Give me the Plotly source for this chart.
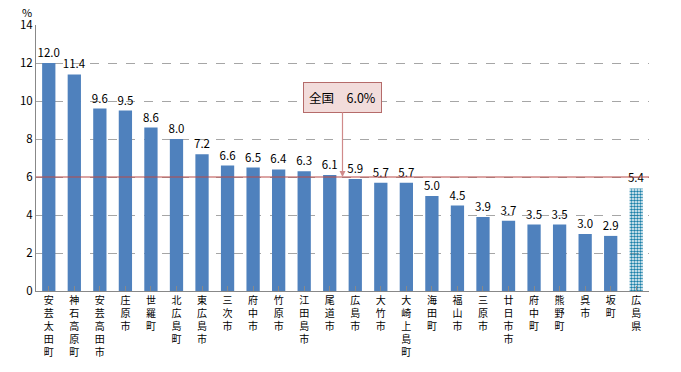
import plotly.graph_objects as go

categories = ["安芸太田町", "神石高原町", "安芸高田市", "庄原市", "世羅町", "北広島町", "東広島市",
              "三次市", "府中市", "竹原市", "江田島市", "尾道市", "広島市", "大竹市", "大崎上島町",
              "海田町", "福山市", "三原市", "廿日市市", "府中町", "熊野町", "呉市", "坂町", "広島県"]
values = [12.0, 11.4, 9.6, 9.5, 8.6, 8.0, 7.2, 6.6, 6.5, 6.4, 6.3, 6.1, 5.9, 5.7, 5.7,
          5.0, 4.5, 3.9, 3.7, 3.5, 3.5, 3.0, 2.9, 5.4]
national_avg = 6.0
y_ticks = [0, 2, 4, 6, 8, 10, 12, 14]

tick_text = ["<br>".join(list(c)) for c in categories]
n = len(categories)

shapes = [""] * (n - 1) + ["."]
fg = ["#4F81BD"] * (n - 1) + ["#1A7FA8"]
bg = ["#4F81BD"] * (n - 1) + ["white"]

fig = go.Figure()
fig.add_trace(go.Bar(
    x=list(range(n)), y=values,
    width=0.52,
    marker=dict(
        color=["#4F81BD"] * (n - 1) + ["#1A7FA8"],
        line=dict(width=0),
        pattern=dict(shape=shapes, fgcolor=fg, bgcolor=bg,
                     size=3, solidity=0.55, fillmode="replace"),
    ),
    text=[f"{v:.1f}" for v in values],
    textposition="outside",
    constraintext="none",
    textfont=dict(size=11.5, color="black"),
    cliponaxis=False,
    showlegend=False,
    hoverinfo="skip",
))

fig.add_shape(type="line", xref="paper", yref="y", x0=0, x1=1, y0=national_avg, y1=national_avg,
              line=dict(color="#B94A48", width=1.2), layer="above")

fig.add_annotation(x=11.5, y=national_avg, xref="x", yref="y",
                   ax=11.5, ay=10.2, axref="x", ayref="y",
                   text=f"全国　{national_avg:.1f}%", showarrow=True,
                   arrowhead=2, arrowsize=1, arrowwidth=1.2, arrowcolor="#D08A8A",
                   font=dict(size=12.5, color="black"),
                   bgcolor="#F2DCDB", bordercolor="#B56B6A", borderwidth=1, borderpad=5)

fig.add_annotation(x=-0.015, y=1.05, xref="paper", yref="paper", text="%", showarrow=False,
                   font=dict(size=11, color="black"), xanchor="center", yanchor="middle")

fig.update_layout(
    width=681, height=372,
    margin=dict(l=36, r=32, t=25, b=81, autoexpand=False),
    plot_bgcolor="white", paper_bgcolor="white",
    font=dict(family="Noto Sans CJK JP, sans-serif", size=11, color="black"),
)
fig.update_xaxes(
    tickmode="array", tickvals=list(range(n)), ticktext=tick_text,
    range=[-0.5, n - 0.5], automargin=False,
    showline=True, linecolor="#888888", linewidth=1,
    ticks="inside", tickson="boundaries", ticklen=5, tickcolor="#888888",
    tickfont=dict(size=10), showgrid=False,
)
fig.update_yaxes(
    range=[0, 14], tickvals=y_ticks, automargin=False,
    showline=True, linecolor="#888888", linewidth=1,
    showgrid=True, gridcolor="#A6A6A6", griddash="dash", gridwidth=1,
    zeroline=False, tickfont=dict(size=11.5), ticks="",
)

fig.write_html("out.html", config={"displayModeBar": False},
               post_script="document.body.style.margin='0';document.body.style.overflow='hidden';")
